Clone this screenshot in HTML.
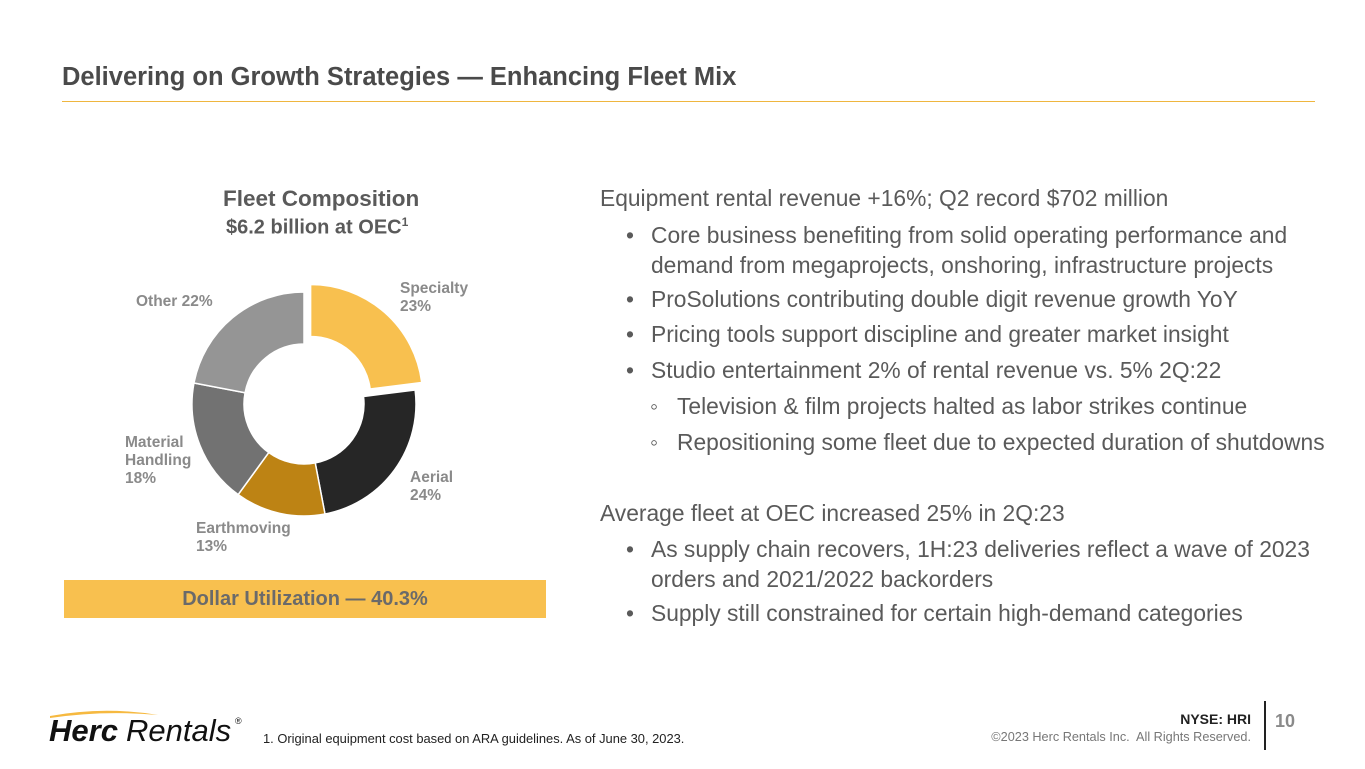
<!DOCTYPE html>
<html><head><meta charset="utf-8">
<style>
body{margin:0;width:1365px;height:769px;background:#fff;font-family:"Liberation Sans",Arial,sans-serif;position:relative;overflow:hidden}
.a{position:absolute;white-space:nowrap}
.title{left:62px;top:63px;font-size:25.5px;font-weight:bold;color:#4a4a4a}
.rule{left:62px;top:101px;width:1253px;height:1px;background:#efb63f}
.body{left:600px;font-size:22.8px;color:#5a5a5a;line-height:30px}
.bt{position:absolute;left:26px;top:0}
.tx{position:absolute;left:51px;top:0}
.lbl{font-size:15.5px;font-weight:bold;color:#8a8a8a;line-height:18px}
</style></head><body>
<div class="a title">Delivering on Growth Strategies — Enhancing Fleet Mix</div>
<div class="a rule"></div>

<div class="a" style="left:223px;top:186px;font-size:22.5px;font-weight:bold;color:#5a5a5a">Fleet Composition</div>
<div class="a" style="left:226px;top:215px;font-size:20px;font-weight:bold;color:#5a5a5a">$6.2 billion at OEC<sup style="font-size:12px">1</sup></div>

<svg class="a" style="left:0;top:0" width="700" height="600" id="donut"></svg>

<div class="a lbl" style="left:400px;top:280px">Specialty<br>23%</div>
<div class="a lbl" style="left:410px;top:469px">Aerial<br>24%</div>
<div class="a lbl" style="left:196px;top:520px">Earthmoving<br>13%</div>
<div class="a lbl" style="left:125px;top:434px">Material<br>Handling<br>18%</div>
<div class="a lbl" style="left:136px;top:293px">Other 22%</div>

<div class="a" style="left:64px;top:580px;width:482px;height:38px;background:#f8c04f;color:#6a6a6a;font-size:20px;font-weight:bold;text-align:center;line-height:38px">Dollar Utilization — 40.3%</div>

<div class="a body" style="top:183px">Equipment rental revenue +16%; Q2 record $702 million</div>
<div class="a body" style="top:220px"><span class="bt">•</span><span class="tx">Core business benefiting from solid operating performance and<br>demand from megaprojects, onshoring, infrastructure projects</span></div>
<div class="a body" style="top:284px"><span class="bt">•</span><span class="tx">ProSolutions contributing double digit revenue growth YoY</span></div>
<div class="a body" style="top:319px"><span class="bt">•</span><span class="tx">Pricing tools support discipline and greater market insight</span></div>
<div class="a body" style="top:355px"><span class="bt">•</span><span class="tx">Studio entertainment 2% of rental revenue vs. 5% 2Q:22</span></div>
<div class="a body" style="top:391px"><span class="bt" style="left:50px">◦</span><span class="tx" style="left:77px">Television &amp; film projects halted as labor strikes continue</span></div>
<div class="a body" style="top:427px"><span class="bt" style="left:50px">◦</span><span class="tx" style="left:77px">Repositioning some fleet due to expected duration of shutdowns</span></div>
<div class="a body" style="top:498px">Average fleet at OEC increased 25% in 2Q:23</div>
<div class="a body" style="top:534px"><span class="bt">•</span><span class="tx">As supply chain recovers, 1H:23 deliveries reflect a wave of 2023<br>orders and 2021/2022 backorders</span></div>
<div class="a body" style="top:598px"><span class="bt">•</span><span class="tx">Supply still constrained for certain high-demand categories</span></div>

<svg class="a" style="left:44px;top:706px" width="210" height="42">
<path d="M6,10 Q60,0 114,9 Q60,4 6,12Z" fill="#f6b940"/>
<text x="5" y="35" font-family="Liberation Sans" font-size="31" font-style="italic" font-weight="bold" fill="#111">Herc</text>
<text x="82" y="35" font-family="Liberation Sans" font-size="31" font-style="italic" fill="#111">Rentals</text>
<text x="191" y="18" font-family="Liberation Sans" font-size="9" fill="#111">®</text>
</svg>
<div class="a" style="left:263px;top:731px;font-size:12.9px;color:#222">1. Original equipment cost based on ARA guidelines. As of June 30, 2023.</div>
<div class="a" style="left:1150px;top:711px;width:101px;text-align:right;font-size:14px;font-weight:bold;color:#222">NYSE: HRI</div>
<div class="a" style="left:950px;top:730px;width:301px;text-align:right;font-size:12.7px;color:#777">©2023 Herc Rentals Inc.&nbsp; All Rights Reserved.</div>
<div class="a" style="left:1264px;top:701px;width:2px;height:49px;background:#222"></div>
<div class="a" style="left:1275px;top:711px;font-size:18px;font-weight:bold;color:#8a8a8a">10</div>

<script>
const categories=["Specialty","Aerial","Earthmoving","Material Handling","Other"];
const values=[23,24,13,18,22];
const colors=["#f8c04f","#262626","#bd8314","#727272","#959595"];
const exploded=[true,false,false,false,false];
(function(){
  const svg=document.getElementById('donut');
  const cx=304,cy=404,R=112,r=60,ex=10;
  const total=values.reduce((a,b)=>a+b,0);
  let a0=0;
  values.forEach((v,i)=>{
    const a1=a0+v/total*2*Math.PI;
    const mid=(a0+a1)/2;
    const dx=exploded[i]?ex*Math.sin(mid):0, dy=exploded[i]?-ex*Math.cos(mid):0;
    const p=(rad,a)=>[cx+dx+rad*Math.sin(a),cy+dy-rad*Math.cos(a)];
    const large=(a1-a0)>Math.PI?1:0;
    const [x1,y1]=p(R,a0),[x2,y2]=p(R,a1),[x3,y3]=p(r,a1),[x4,y4]=p(r,a0);
    const path=document.createElementNS('http://www.w3.org/2000/svg','path');
    path.setAttribute('d',`M${x1},${y1}A${R},${R} 0 ${large} 1 ${x2},${y2}L${x3},${y3}A${r},${r} 0 ${large} 0 ${x4},${y4}Z`);
    path.setAttribute('fill',colors[i]);
    path.setAttribute('stroke','#fff');
    path.setAttribute('stroke-width','1.5');
    
    
    svg.appendChild(path);
    a0=a1;
  });
})();
</script>
</body></html>
